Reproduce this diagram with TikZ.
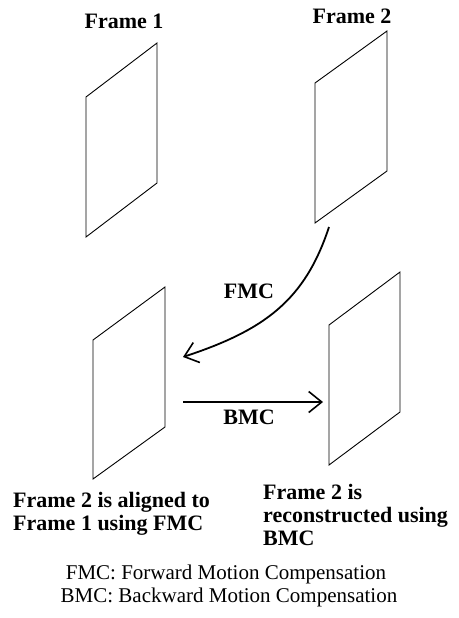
\documentclass[tikz,border=0pt]{standalone}
\usepackage{fontspec}
\setmainfont{Liberation Serif}
\usetikzlibrary{arrows.meta}
\tikzset{
  pane/.style={draw=black, line width=0.9pt, line join=miter},
  mcarrow/.style={draw=black, line width=1.8pt,
    -{Straight Barb[length=13pt,width=21pt,line width=1.6pt]}},
  boldlabel/.style={font=\fontsize{22}{23}\selectfont\bfseries, inner sep=0pt},
  caption/.style={font=\fontsize{22}{23}\selectfont\bfseries, inner sep=0pt, align=left, anchor=west},
  legend/.style={font=\fontsize{21}{22}\selectfont, inner sep=0pt}
}
\begin{document}
\begin{tikzpicture}[x=1pt,y=-1pt]
  \useasboundingbox (0,0) rectangle (458,618);
  \fill[white] (0,0) rectangle (458,618);

  % four frames drawn in oblique view
  \draw[pane] (86,97) -- (157,43) -- (157,183) -- (86,237) -- cycle;
  \draw[pane] (315,83) -- (387,31) -- (387,171) -- (315,223) -- cycle;
  \draw[pane] (93,340) -- (165,287) -- (165,427) -- (93,479) -- cycle;
  \draw[pane] (329,325) -- (400,272) -- (400,412) -- (329,465) -- cycle;

  % frame titles
  \node[boldlabel] (title1) at (124,21.5) {Frame 1};
  \node[boldlabel] (title2) at (352,16) {Frame 2};

  % arrow end points
  \coordinate (fmcFrom) at (329,227);
  \coordinate (fmcTo) at (183,357);
  \coordinate (bmcFrom) at (183,402);
  \coordinate (bmcTo) at (323,402);

  % forward and backward motion compensation
  \draw[mcarrow] (fmcFrom) .. controls (305,300) and (265,330) .. (fmcTo);
  \draw[mcarrow] (bmcFrom) -- (bmcTo);
  \node[boldlabel] (fmcLabel) at (249,291.5) {FMC};
  \node[boldlabel] (bmcLabel) at (249,417) {BMC};

  % captions under the lower frames
  \node[caption] (capLeft) at (13,513.5) {Frame 2 is aligned to\\Frame 1 using FMC};
  \node[caption] (capRight) at (263,514.5) {Frame 2 is\\reconstructed using\\BMC};

  % abbreviations
  \node[legend] (legendF) at (226,574) {FMC: Forward Motion Compensation};
  \node[legend] (legendB) at (229,597) {BMC: Backward Motion Compensation};
\end{tikzpicture}
\end{document}
